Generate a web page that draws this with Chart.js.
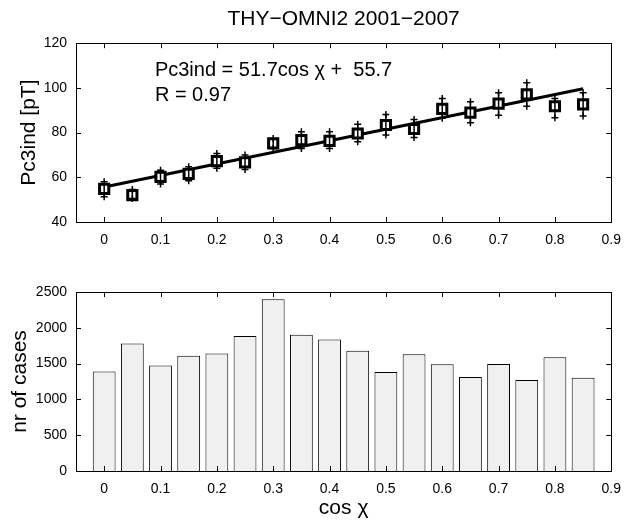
<!DOCTYPE html>
<html>
<head>
<meta charset="utf-8">
<script src="https://cdn.jsdelivr.net/npm/chart.js@4.4.0/dist/chart.umd.min.js"></script>
<style>
  body { margin: 0; background: #fff; }
  #wrap { position: relative; width: 631px; height: 523px; }
  canvas { position: absolute; left: 0; }
</style>
</head>
<body>
<div id="wrap">
  <canvas id="top-chart" width="631" height="250" style="top:0"></canvas>
  <canvas id="bottom-chart" width="631" height="273" style="top:250px"></canvas>
</div>
<script>
// bins of cos chi
const cosChi = [0, 0.05, 0.1, 0.15, 0.2, 0.25, 0.3, 0.35, 0.4, 0.45, 0.5, 0.55, 0.6, 0.65, 0.7, 0.75, 0.8, 0.85];
// Pc3ind mean per bin and the error bar ends
const pc3Mean  = [54.8, 52.0, 60.2, 61.5, 67.2, 66.7, 75.2, 76.6, 76.3, 79.6, 83.4, 81.6, 90.6, 88.9, 93.0, 97.1, 91.8, 92.6];
const pc3Upper = [58.0, 54.5, 63.2, 64.7, 70.7, 70.0, 77.4, 80.4, 80.4, 83.7, 88.1, 85.9, 95.3, 93.8, 97.8, 102.3, 95.3, 97.8];
const pc3Lower = [51.3, 50.5, 57.0, 58.5, 64.0, 63.5, 72.9, 72.9, 72.9, 75.9, 78.9, 77.8, 86.4, 84.4, 87.8, 91.8, 86.6, 87.4];
// fitted line end points
const fitX = [0, 0.85];
const fitY = [55.7, 99.6];
// number of cases per bin
const nrCases = [1388, 1781, 1472, 1608, 1641, 1884, 2400, 1903, 1837, 1679, 1384, 1632, 1491, 1314, 1496, 1272, 1589, 1304];

const xTicks = [0, 0.1, 0.2, 0.3, 0.4, 0.5, 0.6, 0.7, 0.8, 0.9];
const pcTicks = [40, 60, 80, 100, 120];
const caseTicks = [0, 500, 1000, 1500, 2000, 2500];

Chart.defaults.font.family = '"Liberation Sans", Arial, sans-serif';
Chart.defaults.color = '#000';

// matlab style box with inward ticks
const boxTicks = {
    id: 'boxTicks',
    afterDraw(chart) {
        const { ctx, chartArea: a, scales: { x, y } } = chart;
        ctx.save();
        ctx.strokeStyle = '#000';
        ctx.lineWidth = 1;
        ctx.beginPath();
        x.ticks.forEach(t => {
            const px = Math.round(x.getPixelForValue(t.value)) + 0.5;
            ctx.moveTo(px, a.bottom); ctx.lineTo(px, a.bottom - 5);
            ctx.moveTo(px, a.top); ctx.lineTo(px, a.top + 5);
        });
        y.ticks.forEach(t => {
            const py = Math.round(y.getPixelForValue(t.value)) + 0.5;
            ctx.moveTo(a.left, py); ctx.lineTo(a.left + 5, py);
            ctx.moveTo(a.right, py); ctx.lineTo(a.right - 5, py);
        });
        ctx.stroke();
        ctx.strokeRect(Math.round(a.left) + 0.5, Math.round(a.top) + 0.5,
            Math.round(a.right - a.left), Math.round(a.bottom - a.top));
        ctx.restore();
    }
};

const fitText = {
    id: 'fitText',
    afterDraw(chart) {
        const { ctx, scales: { x, y } } = chart;
        ctx.save();
        ctx.fillStyle = '#000';
        ctx.font = '20px "Liberation Sans", Arial, sans-serif';
        ctx.textBaseline = 'middle';
        const px = x.getPixelForValue(0.09);
        ctx.fillText('Pc3ind = 51.7cos \u03c7 +  55.7', px, y.getPixelForValue(107.8));
        ctx.fillText('R = 0.97', px, y.getPixelForValue(96.7));
        ctx.restore();
    }
};

function xScale(height, titleOpts) {
    return {
        type: 'linear',
        min: -0.05,
        max: 0.9,
        offset: false,
        grid: { display: false, drawTicks: false },
        border: { display: false },
        afterBuildTicks: s => { s.ticks = xTicks.map(v => ({ value: v })); },
        afterFit: s => { s.height = height; },
        ticks: { font: { size: 14 }, padding: 10, maxRotation: 0, callback: v => String(v) },
        title: titleOpts
    };
}

function yScale(min, max, ticks, label, pad) {
    return {
        min: min,
        max: max,
        grid: { display: false, drawTicks: false },
        border: { display: false },
        afterBuildTicks: s => { s.ticks = ticks.map(v => ({ value: v })); },
        afterFit: s => { s.width = 76; },
        ticks: { font: { size: 14 }, padding: 9, callback: v => String(v) },
        title: { display: true, text: label, font: { size: 21 }, padding: { top: pad, bottom: 0 } }
    };
}

const errorBars = [];
const errorEnds = [];
cosChi.forEach((c, i) => {
    errorBars.push({ x: c, y: pc3Lower[i] }, { x: c, y: pc3Upper[i] }, { x: c, y: null });
    errorEnds.push({ x: c, y: pc3Lower[i] }, { x: c, y: pc3Upper[i] });
});

new Chart(document.getElementById('top-chart'), {
    type: 'scatter',
    data: {
        datasets: [
            {
                data: errorBars,
                showLine: true,
                spanGaps: false,
                borderColor: '#000',
                borderWidth: 1.5,
                pointRadius: 0
            },
            {
                data: errorEnds,
                pointStyle: 'cross',
                pointRadius: 3.5,
                borderColor: '#000',
                borderWidth: 1.5
            },
            {
                data: cosChi.map((c, i) => ({ x: c, y: pc3Mean[i] })),
                pointStyle: 'rect',
                pointRadius: 6.5,
                borderColor: '#000',
                backgroundColor: '#fff',
                borderWidth: 3
            },
            {
                data: fitX.map((v, i) => ({ x: v, y: fitY[i] })),
                showLine: true,
                borderColor: '#000',
                borderWidth: 3,
                pointRadius: 0
            }
        ]
    },
    options: {
        responsive: false,
        animation: false,
        layout: { padding: { right: 12 } },
        plugins: {
            legend: { display: false },
            tooltip: { enabled: false },
            title: {
                display: true,
                fullSize: false,
                text: 'THY\u2212OMNI2 2001\u22122007',
                font: { size: 21, weight: 'normal' },
                padding: { top: 7, bottom: 11 }
            }
        },
        scales: {
            x: xScale(28, { display: false }),
            y: yScale(40, 120, pcTicks, 'Pc3ind [pT]', 17)
        }
    },
    plugins: [boxTicks, fitText]
});

new Chart(document.getElementById('bottom-chart'), {
    type: 'bar',
    data: {
        datasets: [{
            data: cosChi.map((c, i) => ({ x: c, y: nrCases[i] })),
            backgroundColor: '#f0f0f0',
            borderColor: '#000',
            borderWidth: 1,
            barPercentage: 0.81,
            categoryPercentage: 1
        }]
    },
    options: {
        responsive: false,
        animation: false,
        layout: { padding: { top: 42, right: 12 } },
        plugins: {
            legend: { display: false },
            tooltip: { enabled: false }
        },
        scales: {
            x: xScale(52, { display: true, text: 'cos \u03c7', font: { size: 21 }, padding: { top: 0, bottom: 2 } }),
            y: yScale(0, 2500, caseTicks, 'nr of cases', 8)
        }
    },
    plugins: [boxTicks]
});
</script>
</body>
</html>
